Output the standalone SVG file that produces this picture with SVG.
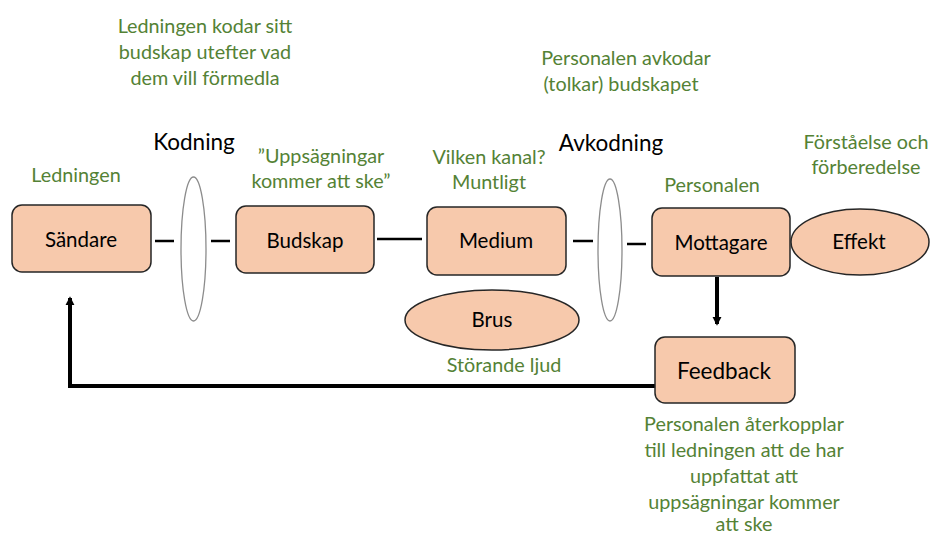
<svg xmlns="http://www.w3.org/2000/svg" width="931" height="534" viewBox="0 0 931 534">
<defs>
<style>
text{font-family:Lato,"Carlito","Liberation Sans",sans-serif;text-anchor:middle}
.g{fill:#548235;font-size:19.8px}
.k{fill:#000;font-size:22.5px}
.n{fill:#000;font-size:20.5px}
.box{fill:#F7C9AC;stroke:#262626;stroke-width:1.5}
.lens{fill:#fff;stroke:#8c8c8c;stroke-width:1.3}
.c{stroke:#000;stroke-width:2.5;fill:none}
.fb{stroke:#000;stroke-width:4;fill:none}
</style>
<marker id="ah" viewBox="0 0 10 10" refX="8" refY="5" markerWidth="2.3" markerHeight="2.3" orient="auto"><path d="M0,0 L10,5 L0,10 z" fill="#000"/></marker>
</defs>
<rect width="931" height="534" fill="#fff"/>
<g id="texts">
<text class="g" x="205" y="33">Ledningen kodar sitt</text>
<text class="g" x="205" y="59">budskap utefter vad</text>
<text class="g" x="205" y="85">dem vill förmedla</text>
<text class="k" x="194" y="150">Kodning</text>
<text class="g" x="76" y="182">Ledningen</text>
<text class="g" x="321" y="163">”Uppsägningar</text>
<text class="g" x="321" y="188">kommer att ske”</text>
<text class="g" x="489" y="164">Vilken kanal?</text>
<text class="g" x="489" y="189">Muntligt</text>
<text class="g" x="626" y="65">Personalen avkodar</text>
<text class="g" x="621" y="91">(tolkar) budskapet</text>
<text class="k" x="611" y="151">Avkodning</text>
<text class="g" x="866" y="149">Förståelse och</text>
<text class="g" x="866" y="174">förberedelse</text>
<text class="g" x="712" y="192">Personalen</text>
<text class="g" x="504" y="372">Störande ljud</text>
<text class="g" x="744" y="431">Personalen återkopplar</text>
<text class="g" x="744" y="457">till ledningen att de har</text>
<text class="g" x="744" y="483">uppfattat att</text>
<text class="g" x="744" y="509">uppsägningar kommer</text>
<text class="g" x="744" y="534" dy="-3">att ske</text>
</g>
<g id="connectors">
<line class="c" x1="155" y1="241" x2="174" y2="241"/>
<line class="c" x1="211" y1="241" x2="230" y2="241"/>
<line class="c" x1="377" y1="239" x2="422" y2="239"/>
<line class="c" x1="573" y1="241" x2="593" y2="241"/>
<line class="c" x1="627" y1="244" x2="646" y2="244"/>
<line class="fb" x1="717" y1="277" x2="717" y2="324" marker-end="url(#ah)"/>
<polyline class="fb" points="656,386 70,386 70,298" marker-end="url(#ah)"/>
</g>
<g id="lens-kodning"><ellipse class="lens" cx="193.5" cy="249" rx="12.5" ry="72"/></g>
<g id="lens-avkodning"><ellipse class="lens" cx="610" cy="250" rx="12" ry="71"/></g>
<g id="sandare"><rect class="box" x="12" y="205" width="139" height="67" rx="10"/><text class="n" x="81" y="247">Sändare</text></g>
<g id="budskap"><rect class="box" x="236" y="206" width="138" height="67" rx="10"/><text class="n" x="305" y="248">Budskap</text></g>
<g id="medium"><rect class="box" x="427" y="207" width="139" height="68" rx="10"/><text class="n" x="496" y="248">Medium</text></g>
<g id="mottagare"><rect class="box" x="652" y="208" width="138" height="68" rx="10"/><text class="n" x="721" y="250">Mottagare</text></g>
<g id="effekt"><ellipse class="box" cx="860" cy="242" rx="69" ry="33"/><text class="n" x="859" y="249">Effekt</text></g>
<g id="brus"><ellipse class="box" cx="492" cy="320" rx="87" ry="30"/><text class="n" x="492" y="327">Brus</text></g>
<g id="feedback"><rect class="box" x="655" y="337" width="140" height="66" rx="10"/><text class="k" x="724" y="379">Feedback</text></g>
</svg>
